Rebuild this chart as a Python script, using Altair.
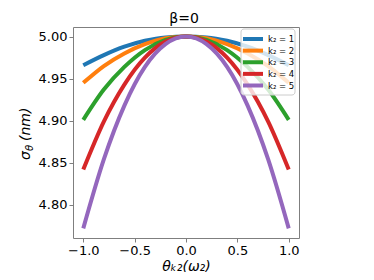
import altair as alt
import pandas as pd

# data
theta = [-1.0, -0.8, -0.6, -0.4, -0.2, 0.0, 0.2, 0.4, 0.6, 0.8, 1.0]
k1 = [4.966, 4.978, 4.988, 4.995, 4.999, 5.000, 4.999, 4.995, 4.988, 4.978, 4.966]
k2 = [4.945, 4.965, 4.980, 4.991, 4.998, 5.000, 4.998, 4.991, 4.980, 4.965, 4.945]
k3 = [4.901, 4.937, 4.964, 4.984, 4.996, 5.000, 4.996, 4.984, 4.964, 4.937, 4.901]
k4 = [4.842, 4.899, 4.943, 4.975, 4.994, 5.000, 4.994, 4.975, 4.943, 4.899, 4.842]
k5 = [4.772, 4.854, 4.918, 4.964, 4.991, 5.000, 4.991, 4.964, 4.918, 4.854, 4.772]
series_names = ["k₂ = 1", "k₂ = 2", "k₂ = 3", "k₂ = 4", "k₂ = 5"]
colors = ["#1f77b4", "#ff7f0e", "#2ca02c", "#d62728", "#9467bd"]
x_ticks = [-1.0, -0.5, 0.0, 0.5, 1.0]
y_ticks = [4.80, 4.85, 4.90, 4.95, 5.00]
title_text = "β=0"

rows = []
for name, vals in zip(series_names, [k1, k2, k3, k4, k5]):
    for t, v in zip(theta, vals):
        rows.append({"theta": t, "sigma": v, "series": name})
df = pd.DataFrame(rows)
leg_df = pd.DataFrame({"series": series_names, "row": list(range(len(series_names)))})

FONT = "DejaVu Sans"
color_scale = alt.Scale(domain=series_names, range=colors)

lines = alt.Chart(df).mark_line(strokeWidth=4, clip=True, interpolate="monotone").encode(
    x=alt.X("theta:Q",
            scale=alt.Scale(domain=[-1.1, 1.1], nice=False, zero=False),
            axis=alt.Axis(values=x_ticks, format=".1f", title="θₖ₂(ω₂)",
                          titleFontStyle="italic", titleFontWeight="normal",
                          titleFontSize=14, titlePadding=2)),
    y=alt.Y("sigma:Q",
            scale=alt.Scale(domain=[4.7606, 5.0114], nice=False, zero=False),
            axis=alt.Axis(values=y_ticks, format=".2f", title=None)),
    color=alt.Color("series:N", scale=color_scale, legend=None),
    order=alt.Order("theta:Q"),
)

# legend drawn inside the plot, top right
leg_box = alt.Chart(pd.DataFrame({"a": [0]})).mark_rect(
    fill="white", fillOpacity=0.8, stroke="#cccccc", strokeWidth=1, cornerRadius=3
).encode(x=alt.value(168), x2=alt.value(222), y=alt.value(2), y2=alt.value(68))

leg_y = alt.Y("row:Q", scale=alt.Scale(domain=[0, 4], range=[12, 58.5]), axis=None)
leg_sym = alt.Chart(leg_df).mark_rule(strokeWidth=4).encode(
    x=alt.value(170), x2=alt.value(190), y=leg_y,
    color=alt.Color("series:N", scale=color_scale, legend=None))
leg_txt = alt.Chart(leg_df).mark_text(
    align="left", baseline="middle", font=FONT, fontSize=8.5, color="black"
).encode(x=alt.value(195), y=leg_y, text="series:N")
legend = alt.layer(leg_box, leg_sym, leg_txt)


def txt(s, x, y, size, style="italic", angle=270, align="left"):
    return alt.Chart(pd.DataFrame({"t": [s]})).mark_text(
        angle=angle, align=align, baseline="alphabetic", font=FONT,
        fontSize=size, fontStyle=style, color="black"
    ).encode(text="t:N", x=alt.value(x), y=alt.value(y))


ytitle = txt("σ", -43, 133, 14) + txt("θ", -40, 124, 10) + txt("(nm)", -43, 114, 14)
title = txt(title_text, 111, -4.5, 14, style="normal", angle=0, align="center")

chart = alt.layer(lines, legend, ytitle, title).resolve_scale(y="independent").properties(
    width=226, height=211,
    padding={"left": 65, "top": 19, "right": 67, "bottom": 34},
    autosize=alt.AutoSizeParams(type="none"),
).configure_view(stroke="#7f7f7f", strokeWidth=1).configure_axis(
    grid=False, domainColor="#7f7f7f", tickColor="#7f7f7f", tickSize=4,
    labelFont=FONT, labelFontSize=13, labelColor="black", titleFont=FONT,
    titleColor="black", labelPadding=2, domain=False
)

chart.save("out.html", embed_options={"renderer": "svg", "actions": False})
